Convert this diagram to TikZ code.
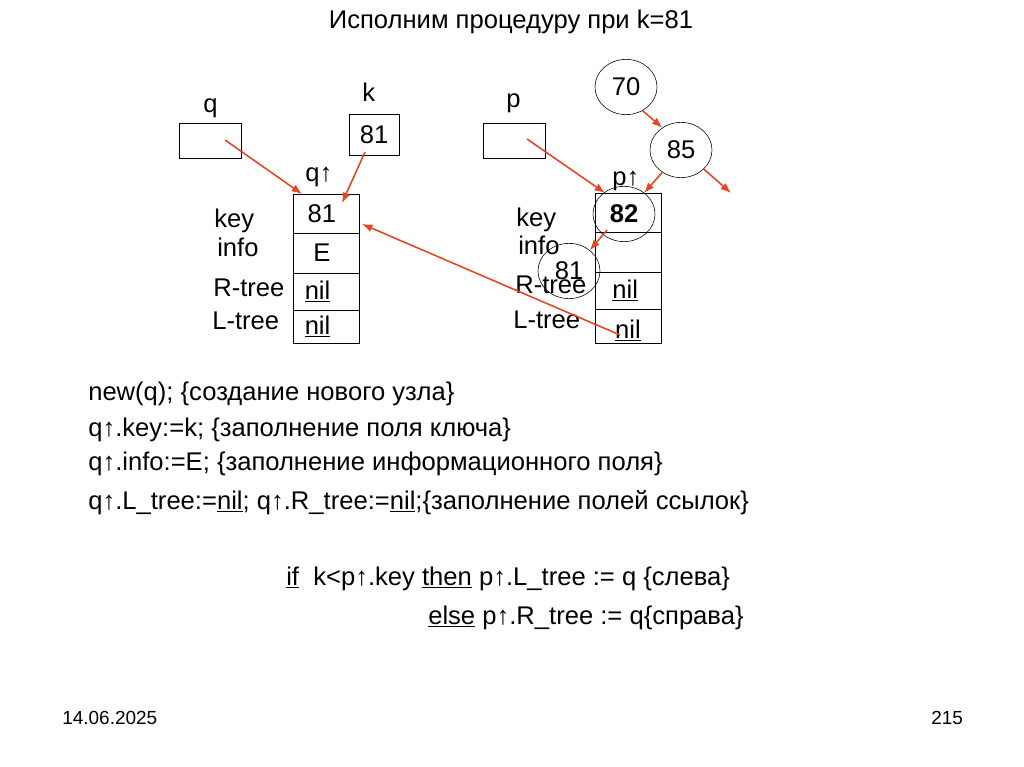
\documentclass[tikz,border=0pt]{standalone}
\usepackage{fontspec}
\setmainfont{Liberation Sans}
\usetikzlibrary{arrows.meta,shapes.geometric}
\definecolor{linkred}{RGB}{232,68,34}

\begin{document}
\begin{tikzpicture}[x=0.025cm,y=-0.025cm,
  font=\fontsize{18.2pt}{21pt}\selectfont,
  link/.style={draw=linkred,line width=1.1pt,-{Latex[length=0.26cm,width=0.2cm]}},
  elem/.style={draw,ellipse,minimum width=1.55cm,minimum height=1.38cm,inner sep=0pt},
  lbl/.style={anchor=base west,inner sep=0pt}]
\useasboundingbox (0,0) rectangle (1024,767);

% title
\node[anchor=base,inner sep=0pt] (title) at (511,29) {Исполним процедуру при k=81};

% q and k
\node[lbl] (qname) at (203,113) {q};
\draw(179,123)rectangle(241,158);
\coordinate (qfrom) at (225,140);
\node[lbl] (kname) at (362,102) {k};
\draw(349,114)rectangle(399,155)node[midway](kval){81};
\coordinate (kfrom) at (365,152);

% record q^
\node[lbl] (qup) at (305,182) {q↑};
\draw(293,194)rectangle(359,233)node[midway,xshift=-3](qkey){81};
\draw(293,233)rectangle(359,273)node[midway,xshift=-3](qinfo){E};
\draw(293,273)rectangle(359,310)node[midway,xshift=-6](qrt){\underline{nil}};
\draw(293,310)rectangle(359,343)node[midway,xshift=-6](qlt){\underline{nil}};
\coordinate (qtop) at (302,194);
\coordinate (qkeyin) at (342,203);
\coordinate (qkeyside) at (362,224);
\node[lbl] (qk) at (214,228) {key};
\node[lbl] (qi) at (217,257) {info};
\node[lbl] (qr) at (213,296) {R-tree};
\node[lbl] (ql) at (212,329) {L-tree};

% p and tree
\node[lbl] (pname) at (506,108) {p};
\draw(483,123)rectangle(545,158);
\coordinate (pfrom) at (527,139);
\node[elem] (n70) at (626,87) {70};
\node[elem] (n85) at (681,150) {85};
\coordinate (rfree) at (731,193);

% record p^
\node[lbl] (pup) at (612,186) {p↑};
\draw(595,193)rectangle(661,232);
\draw(595,232)rectangle(661,272);
\draw(595,272)rectangle(661,309)node[midway,xshift=-2](prt){\underline{nil}};
\draw(595,309)rectangle(661,343)node[midway,yshift=-3](plt){\underline{nil}};
\node[elem,font=\fontsize{18.2pt}{21pt}\selectfont\bfseries] (n82) at (624,214) {82};
\node[elem] (n81) at (569,271) {81};
\coordinate (ptop) at (605,193);
\coordinate (pright) at (644,193);
\coordinate (n82from) at (607,230);
\coordinate (plfrom) at (620,335);
\node[lbl] (pk) at (516,227) {key};
\node[lbl] (pi) at (518,255) {info};
\node[lbl] (pr) at (515,293) {R-tree};
\node[lbl] (pl) at (513,328) {L-tree};

% links
\draw[link] (qfrom) -- (qtop);
\draw[link] (kfrom) -- (qkeyin);
\draw[link] (pfrom) -- (ptop);
\draw[link] (n70.-55) -- (n85.130);
\draw[link] (n85.-130) -- (pright);
\draw[link] (n85.-40) -- (rfree);
\draw[link] (n82from) -- (n81.45);
\draw[link] (plfrom) -- (qkeyside);

% code
\node[lbl] (c1) at (88,400) {new(q); \{создание нового узла\}};
\node[lbl] (c2) at (88,436) {q↑.key:=k; \{заполнение поля ключа\}};
\node[lbl] (c3) at (88,470) {q↑.info:=E; \{заполнение информационного поля\}};
\node[lbl] (c4) at (88,509) {q↑.L\_tree:=\underline{nil}; q↑.R\_tree:=\underline{nil};\{заполнение полей ссылок\}};
\node[lbl] (c5) at (286,585) {\underline{if}\ \ k<p↑.key \underline{then} p↑.L\_tree := q \{слева\}};
\node[lbl] (c6) at (428,624) {\underline{else} p↑.R\_tree := q\{справа\}};

% footer
\node[lbl,font=\fontsize{13.5pt}{16pt}\selectfont] (date) at (62,724) {14.06.2025};
\node[lbl,font=\fontsize{13.5pt}{16pt}\selectfont] (page) at (931,724) {215};
\end{tikzpicture}
\end{document}
